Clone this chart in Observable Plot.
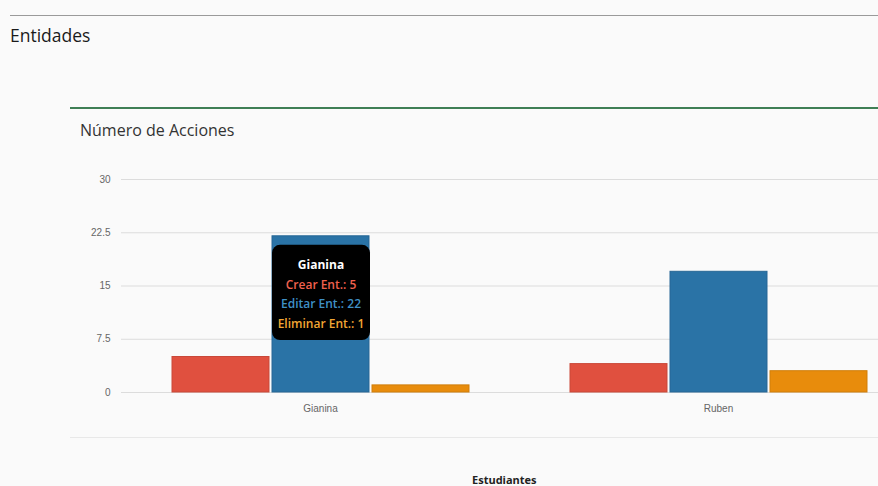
<!DOCTYPE html>
<html>
<head>
<meta charset="utf-8">
<script src="https://cdn.jsdelivr.net/npm/d3@7"></script>
<script src="https://cdn.jsdelivr.net/npm/@observablehq/plot@0.6"></script>
<style>
  html, body { margin: 0; padding: 0; }
  body { width: 878px; height: 486px; overflow: hidden; background: #fafafa; position: relative; font-family: "Open Sans", sans-serif; }
  #topline { position: absolute; left: 10px; right: 0; top: 15px; height: 0; border-top: 1px solid #9a9a9a; }
  #page-title { position: absolute; left: 10px; top: 23px; font-size: 17.5px; color: #1a1a1a; }
  #greenline { position: absolute; left: 70px; right: 0; top: 107px; height: 0; border-top: 2px solid #3f7f55; }
  #chart-title { position: absolute; left: 80px; top: 119px; font-size: 16px; color: #333; }
  #chart { position: absolute; left: 0; top: 160px; }
  #sep { position: absolute; left: 70px; right: 0; top: 437px; height: 0; border-top: 1px solid #e8e8e8; }
  #xlabel { position: absolute; left: 472px; top: 472px; font-size: 11px; font-weight: bold; color: #222; font-family: "Open Sans", sans-serif; }
</style>
</head>
<body>
<div id="topline"></div>
<div id="page-title">Entidades</div>
<div id="greenline"></div>
<div id="chart-title">Número de Acciones</div>
<div id="chart"></div>
<div id="sep"></div>
<div id="xlabel">Estudiantes</div>
<script>
const students = ["Gianina", "Ruben"];
const actions = ["Crear Ent.", "Editar Ent.", "Eliminar Ent."];
const crearValues = [5, 4];
const editarValues = [22, 17];
const eliminarValues = [1, 3];
const barColors = ["#e0503f", "#2a73a6", "#e88c0c"];
const tipColors = ["#ffffff", "#f0604e", "#3f90c6", "#f2a634"];
const yTicks = [0, 7.5, 15, 22.5, 30];
const hovered = "Gianina";

const seriesValues = [crearValues, editarValues, eliminarValues];
const data = [];
students.forEach((s, i) => actions.forEach((a, j) => data.push({student: s, action: a, value: seriesValues[j][i]})));

const hi = students.indexOf(hovered);
const tipRow = [{student: hovered, action: actions[1], value: editarValues[hi]}];
const tipLines = [hovered, ...actions.map((a, j) => `${a}: ${seriesValues[j][hi]}`)];
const tipDy = [29, 49, 68, 88];

const plot = Plot.plot({
  width: 917,
  height: 262,
  marginTop: 19,
  marginBottom: 30,
  marginLeft: 121,
  marginRight: 0,
  style: {maxWidth: "none", background: "transparent", fontFamily: "'Liberation Sans', Arial, sans-serif", fontSize: "10px", color: "#666", overflow: "visible"},
  fx: {domain: students, padding: 0, label: null, tickSize: 0, tickPadding: 12, axis: "bottom"},
  x: {domain: actions, paddingInner: 0.03, paddingOuter: 0.49, axis: null},
  y: {domain: [0, 30], ticks: yTicks, tickSize: 0, tickPadding: 11, label: null, tickFormat: d => String(d)},
  color: {domain: actions, range: barColors},
  marks: [
    Plot.gridY(yTicks, {stroke: "#dcdcdc", strokeOpacity: 1}),
    Plot.barY(data, {fx: "student", x: "action", y: "value", fill: "action", stroke: d => d3.color(barColors[actions.indexOf(d.action)]).darker(0.3).formatHex(), strokeWidth: 1}),
    Plot.rect(tipRow, {fx: "student", x: "action", y1: 0, y2: "value", fill: "#000", rx: 8, insetTop: 9, insetBottom: 52, insetLeft: 0, insetRight: -1}),
    ...tipLines.map((t, k) => Plot.text(tipRow, {fx: "student", x: "action", y: "value", text: () => t, dy: tipDy[k], fill: tipColors[k], fontSize: 12, fontWeight: k === 0 ? "bold" : 600, fontFamily: "'Open Sans', sans-serif"}))
  ]
});
document.getElementById("chart").appendChild(plot);
</script>
</body>
</html>
